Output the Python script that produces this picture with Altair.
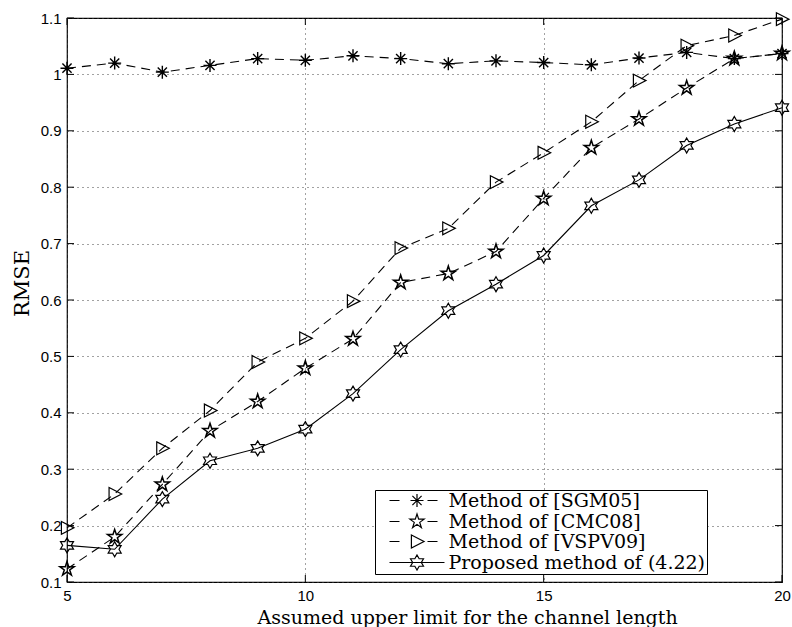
import math
import altair as alt
import pandas as pd

# ---------------- data ----------------
x_vals = list(range(5, 21))
sgm05 = [1.011, 1.020, 1.004, 1.016, 1.028, 1.025, 1.033, 1.028,
         1.019, 1.024, 1.021, 1.017, 1.029, 1.039, 1.028, 1.037]
cmc08 = [0.123, 0.180, 0.273, 0.368, 0.420, 0.479, 0.531, 0.631,
         0.647, 0.686, 0.780, 0.870, 0.921, 0.976, 1.028, 1.037]
vspv09 = [0.196, 0.256, 0.337, 0.404, 0.490, 0.532, 0.598, 0.692,
          0.727, 0.809, 0.861, 0.916, 0.989, 1.051, 1.069, 1.098]
proposed = [0.165, 0.158, 0.247, 0.315, 0.337, 0.371, 0.434, 0.512,
            0.581, 0.628, 0.679, 0.767, 0.813, 0.874, 0.912, 0.941]
names = ["Method of [SGM05]", "Method of [CMC08]",
         "Method of [VSPV09]", "Proposed method of (4.22)"]
y_ticks = [0.1, 0.2, 0.3, 0.4, 0.5, 0.6, 0.7, 0.8, 0.9, 1.0, 1.1]
x_ticks = [5, 10, 15, 20]

series = [sgm05, cmc08, vspv09, proposed]

SERIF = "DejaVu Serif"

# ---------------- marker shapes (unit radius paths) ----------------
def fmt(pts):
    return "M" + "L".join(f"{a:.3f},{b:.3f}" for a, b in pts) + "Z"

def star_path(n, r_in, s=1.0):
    pts = []
    for i in range(2 * n):
        ang = -math.pi / 2 + i * math.pi / n
        r = 1.0 if i % 2 == 0 else r_in
        pts.append((s * r * math.cos(ang), s * r * math.sin(ang)))
    return fmt(pts)

def asterisk_path(s=1.0):
    d = 0.7071 * s
    return (f"M0,{-s}L0,{s}M{-s},0L{s},0"
            f"M{-d},{-d}L{d},{d}M{-d},{d}L{d},{-d}")

def triangle_path(s=1.0):
    return fmt([(-0.8 * s, -0.92 * s), (1.0 * s, 0.0), (-0.8 * s, 0.92 * s)])

marker_r = [6.5, 7.5, 7.0, 7.5]          # px radius of each marker
marker_w = [1.4, 1.5, 1.2, 1.2]          # stroke width of each marker
marker_fn = [asterisk_path,
             lambda s=1.0: star_path(5, 0.382, s),
             triangle_path,
             lambda s=1.0: star_path(6, 0.577, s)]
dashed = [True, True, True, False]

# legend symbols: line segment(s) + marker, in units of LEG_R px
LEG_SIZE = 144
LEG_R = math.sqrt(LEG_SIZE) / 2
def leg_path(i):
    u = lambda px: px / LEG_R
    if dashed[i]:
        line = (f"M{u(-27.5):.3f},0L{u(-17.5):.3f},0"
                f"M{u(10.5):.3f},0L{u(20.5):.3f},0")
    else:
        line = f"M{u(-27.5):.3f},0L{u(27.5):.3f},0"
    return line + marker_fn[i](marker_r[i] / LEG_R)

rows = []
for name, vals in zip(names, series):
    for xv, yv in zip(x_vals, vals):
        rows.append({"series": name, "len": xv, "rmse": yv})
df = pd.DataFrame(rows)

# ---------------- scales / axes ----------------
xs = alt.Scale(domain=[5, 20], nice=False, zero=False)
ys = alt.Scale(domain=[0.1, 1.1], nice=False, zero=False)

x_axis = alt.Axis(values=x_ticks, title="Assumed upper limit for the channel length",
                  ticks=False, domain=False, grid=True, gridDash=[1, 4],
                  gridColor="#444", gridWidth=1, labelFont="Liberation Sans",
                  labelFontSize=15, labelColor="black", labelPadding=6,
                  labelFlush=False, labelOverlap=False,
                  titleFont=SERIF, titleFontSize=19,
                  titleFontWeight="normal", titleColor="black",
                  titleX=190, titleY=41, titleAlign="left",
                  titleBaseline="alphabetic")
y_axis = alt.Axis(values=y_ticks, format="~g", title="RMSE",
                  ticks=False, domain=False, grid=True, gridDash=[1, 4],
                  gridColor="#444", gridWidth=1, labelFont="Liberation Sans",
                  labelFontSize=15, labelColor="black", labelPadding=6,
                  labelFlush=False, labelOverlap=False,
                  titleFont=SERIF, titleFontSize=21,
                  titleFontWeight="normal", titleColor="black",
                  titleAngle=270, titleX=-39, titleY=265, titleAlign="center",
                  titleBaseline="alphabetic")

X = lambda f: alt.X(f, scale=xs, axis=x_axis)
Y = lambda f: alt.Y(f, scale=ys, axis=y_axis)

layers = []

# lines
for i, name in enumerate(names):
    sub = df[df["series"] == name]
    kw = dict(color="black", strokeWidth=1.1)
    if dashed[i]:
        kw["strokeDash"] = [9, 6]
    layers.append(alt.Chart(sub).mark_line(**kw).encode(x=X("len:Q"), y=Y("rmse:Q")))

# markers
for i, name in enumerate(names):
    sub = df[df["series"] == name]
    layers.append(alt.Chart(sub).mark_point(
        shape=marker_fn[i](1.0), size=(2 * marker_r[i]) ** 2, filled=False,
        stroke="black", strokeWidth=marker_w[i], opacity=1).encode(
        x=X("len:Q"), y=Y("rmse:Q")))

# inward ticks
yt = pd.DataFrame({"v": y_ticks})
xt = pd.DataFrame({"v": x_ticks})
for x0, x1 in [(0, 7), (708, 715)]:
    layers.append(alt.Chart(yt).mark_rule(color="black", strokeWidth=1).encode(
        y=Y("v:Q"), x=alt.value(x0), x2=alt.value(x1)))
for y0, y1 in [(0, 7), (557, 564)]:
    layers.append(alt.Chart(xt).mark_rule(color="black", strokeWidth=1).encode(
        x=X("v:Q"), y=alt.value(y0), y2=alt.value(y1)))

# legend carrier (invisible points)
NB = "\u00a0" * 10
leg_names = names[:3] + [names[3] + NB]
legend = alt.Legend(orient="none", legendX=308, legendY=472, title=None,
                    padding=1, strokeColor="black", fillColor="white",
                    labelFont=SERIF, labelFontSize=19,
                    labelColor="black", labelLimit=600,
                    symbolSize=LEG_SIZE, symbolStrokeColor="black",
                    symbolStrokeWidth=1.2, symbolFillColor="transparent",
                    symbolOpacity=1, symbolOffset=31.5, labelOffset=22,
                    columns=1, rowPadding=0)
leg_df = df.copy()
leg_df["series"] = leg_df["series"].map(dict(zip(names, leg_names)))
layers.append(alt.Chart(leg_df).mark_point(filled=False, opacity=0).encode(
    x=X("len:Q"), y=Y("rmse:Q"),
    shape=alt.Shape("series:N",
                    scale=alt.Scale(domain=leg_names, range=[leg_path(i) for i in range(4)]),
                    legend=legend)))

chart = alt.layer(*layers).properties(
    width=715, height=564,
    autosize=alt.AutoSizeParams(type="none"),
    padding={"left": 67, "top": 18, "right": 10, "bottom": 45},
    background="white",
).configure_view(stroke="black", strokeWidth=1.2)

chart.save("out.html", embed_options={"renderer": "svg", "actions": False})
